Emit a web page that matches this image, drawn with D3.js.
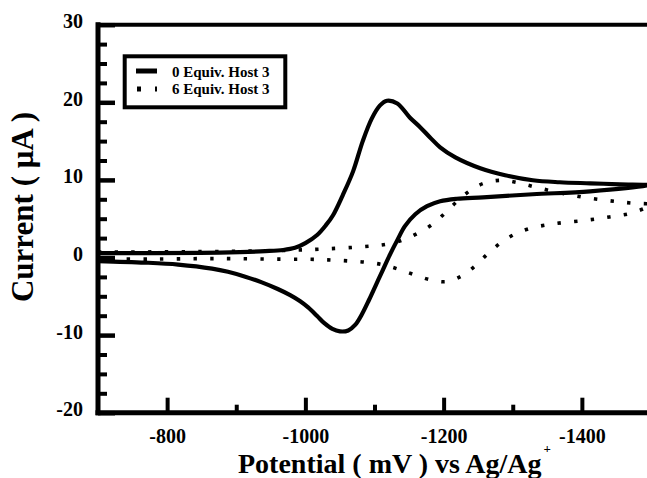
<!DOCTYPE html>
<html>
<head>
<meta charset="utf-8">
<script src="https://cdn.jsdelivr.net/npm/d3@7"></script>
<style>
  body { margin: 0; background: #fff; }
  svg { display: block; }
  text { font-family: "Liberation Serif", "Times New Roman", serif; font-weight: bold; fill: #000; }
</style>
</head>
<body>
<svg id="chart" width="647" height="478"></svg>
<script>
// Cyclic voltammograms: forward (cathodic) and reverse sweeps for each titration point.
const host0ForwardPotential = [-700, -848, -905, -942, -968, -985, -1000, -1017, -1030, -1040, -1054, -1069, -1083, -1096, -1108, -1118, -1133, -1151, -1166, -1180, -1195, -1217, -1253, -1289, -1329, -1368, -1412, -1455, -1500];
const host0ForwardCurrent   = [0.57, 0.6, 0.7, 0.82, 0.97, 1.25, 1.85, 2.9, 4.2, 5.45, 8.02, 11.1, 15.0, 17.9, 19.6, 20.2, 19.85, 18.05, 16.8, 15.5, 14.2, 12.9, 11.5, 10.6, 9.95, 9.7, 9.56, 9.43, 9.3];
const host0ReversePotential = [-1500, -1412, -1329, -1257, -1219, -1195, -1176, -1159, -1144, -1133, -1122, -1112, -1102, -1092, -1082, -1072, -1062, -1050, -1039, -1027, -1017, -1004, -992, -978, -960, -937, -913, -888, -865, -816, -768, -700];
const host0ReverseCurrent   = [8.92, 8.53, 8.15, 7.76, 7.57, 7.25, 6.61, 5.58, 4.04, 2.24, 0.31, -1.62, -3.55, -5.48, -7.28, -8.69, -9.4, -9.52, -9.2, -8.43, -7.54, -6.43, -5.61, -4.85, -4.06, -3.21, -2.47, -1.84, -1.43, -0.91, -0.66, -0.46];

const host6ForwardPotential = [-700, -848, -963, -1043, -1094, -1118, -1141, -1163, -1185, -1201, -1219, -1238, -1258, -1283, -1308, -1331, -1355, -1379, -1402, -1428, -1452, -1475, -1500];
const host6ForwardCurrent   = [0.69, 0.76, 0.89, 1.17, 1.47, 1.72, 2.24, 3.14, 4.36, 5.64, 7.19, 8.6, 9.56, 9.95, 9.63, 9.11, 8.6, 8.15, 7.76, 7.44, 7.19, 6.99, 6.8];
const host6ReversePotential = [-1500, -1471, -1447, -1423, -1400, -1374, -1351, -1326, -1303, -1282, -1264, -1247, -1227, -1205, -1182, -1157, -1134, -1111, -1086, -1062, -1039, -1014, -963, -866, -775, -700];
const host6ReverseCurrent   = [6.16, 5.71, 5.32, 5.0, 4.74, 4.51, 4.23, 3.78, 3.01, 1.85, 0.5, -0.98, -2.33, -3.1, -2.9, -2.2, -1.49, -0.91, -0.59, -0.44, -0.33, -0.24, -0.21, -0.14, -0.21, -0.21];

const seriesNames = ["0 Equiv. Host 3", "6 Equiv. Host 3"];

const potentialMajorTicks = [-800, -1000, -1200, -1400];
const potentialMinorTicks = [-900, -1100, -1300, -1500];
const currentMajorTicks = [-20, -10, 0, 10, 20, 30];
const currentMinorTicks = [-17.5, -15, -12.5, -7.5, -5, -2.5, 2.5, 5, 7.5, 12.5, 15, 17.5, 22.5, 25, 27.5];

const svg = d3.select("#chart");
const plotLeft = 98, plotRight = 651, plotTop = 24.7, plotBottom = 412.7;

const x = d3.scaleLinear().domain([-700, -1500]).range([plotLeft, plotRight]);
const y = d3.scaleLinear().domain([-20, 30]).range([plotBottom, plotTop]);

// Plain hyphen for negative tick values
const tickText = d => String(d);

function loop(fe, fi, re, ri) {
  return fe.map((e, k) => [e, fi[k]]).concat(re.map((e, k) => [e, ri[k]]).slice(1));
}

const series = [
  { name: seriesNames[0], points: loop(host0ForwardPotential, host0ForwardCurrent, host0ReversePotential, host0ReverseCurrent), dotted: false },
  { name: seriesNames[1], points: loop(host6ForwardPotential, host6ForwardCurrent, host6ReversePotential, host6ReverseCurrent), dotted: true }
];

const line = d3.line()
  .x(d => x(d[0]))
  .y(d => y(d[1]))
  .curve(d3.curveCatmullRom.alpha(0.5));

// Curves
svg.append("g").selectAll("path")
  .data(series)
  .join("path")
  .attr("d", d => line(d.points))
  .attr("fill", "none")
  .attr("stroke", "#000")
  .attr("stroke-width", d => d.dotted ? 3.6 : 4.2)
  .attr("stroke-dasharray", d => d.dotted ? "3.4 13.3" : null)
  .attr("stroke-linejoin", "round");

// Axes with inward ticks
function styleAxis(g, width) {
  g.select(".domain").remove();
  g.selectAll(".tick line").attr("stroke", "#000").attr("stroke-width", width);
}

svg.append("g")
  .attr("transform", `translate(${plotLeft},0)`)
  .call(d3.axisLeft(y).tickValues(currentMinorTicks).tickSize(-9).tickFormat(""))
  .call(g => styleAxis(g, 4));

svg.append("g")
  .attr("transform", `translate(${plotLeft},0)`)
  .call(d3.axisLeft(y).tickValues(currentMajorTicks).tickSize(-17).tickPadding(15).tickFormat(tickText))
  .call(g => styleAxis(g, 4.5))
  .call(g => g.selectAll("text").attr("font-size", 20).attr("dy", "0.15em").attr("font-family", null));

svg.append("g")
  .attr("transform", `translate(0,${plotBottom})`)
  .call(d3.axisBottom(x).tickValues(potentialMinorTicks).tickSize(-8).tickFormat(""))
  .call(g => styleAxis(g, 4));

svg.append("g")
  .attr("transform", `translate(0,${plotBottom})`)
  .call(d3.axisBottom(x).tickValues(potentialMajorTicks).tickSize(-15).tickPadding(16).tickFormat(tickText))
  .call(g => styleAxis(g, 4))
  .call(g => g.selectAll("text").attr("font-size", 20).attr("font-family", null));

// Frame
const frame = svg.append("g").attr("stroke", "#000").attr("stroke-linecap", "square");
frame.append("line").attr("x1", plotLeft).attr("x2", plotLeft).attr("y1", plotTop).attr("y2", plotBottom).attr("stroke-width", 5);
frame.append("line").attr("x1", plotLeft).attr("x2", plotRight).attr("y1", plotBottom).attr("y2", plotBottom).attr("stroke-width", 5);
frame.append("line").attr("x1", plotLeft).attr("x2", plotRight).attr("y1", plotTop).attr("y2", plotTop).attr("stroke-width", 4);
frame.append("line").attr("x1", plotRight).attr("x2", plotRight).attr("y1", plotTop).attr("y2", plotBottom).attr("stroke-width", 4);

// Axis titles
svg.append("text")
  .attr("x", 238).attr("y", 473)
  .attr("font-size", 28)
  .text("Potential ( mV ) vs Ag/Ag")
  .append("tspan")
  .attr("font-size", 13)
  .attr("dx", 2)
  .attr("dy", -20)
  .text("+");

svg.append("text")
  .attr("transform", "translate(33,207) rotate(-90)")
  .attr("text-anchor", "middle")
  .attr("font-size", 31)
  .text("Current ( μA )");

// Legend
const legend = svg.append("g");
legend.append("rect")
  .attr("x", 124.7).attr("y", 56.3).attr("width", 160.6).attr("height", 51)
  .attr("fill", "#fff").attr("stroke", "#000").attr("stroke-width", 4);

const rows = legend.selectAll("g.row")
  .data(series)
  .join("g")
  .attr("class", "row")
  .attr("transform", (d, i) => `translate(0,${i * 17})`);

rows.append("line")
  .attr("x1", d => d.dotted ? 137 : 136)
  .attr("x2", 157)
  .attr("y1", d => d.dotted ? 72 : 71)
  .attr("y2", d => d.dotted ? 72 : 71)
  .attr("stroke", "#000")
  .attr("stroke-width", 5)
  .attr("stroke-dasharray", d => d.dotted ? "4 14" : null);

rows.append("text")
  .attr("x", 172).attr("y", 77)
  .attr("font-size", 15)
  .text(d => d.name);
</script>
</body>
</html>
